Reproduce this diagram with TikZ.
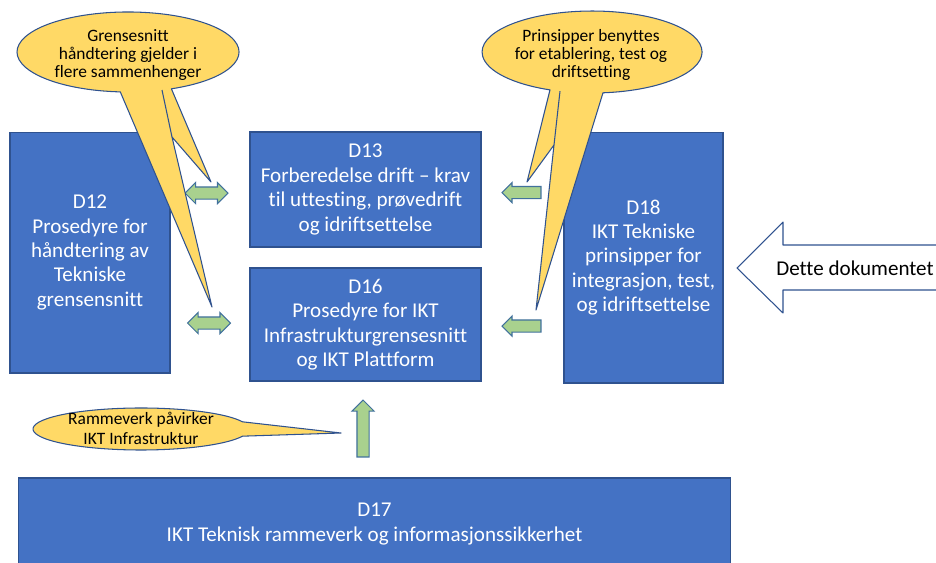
\documentclass[tikz,border=0pt]{standalone}
\usepackage{fontspec}
\setmainfont{Carlito}[Ligatures=CommonOff]
\usetikzlibrary{shapes.arrows, positioning}

\definecolor{boxblue}{HTML}{4472C4}
\definecolor{edgeblue}{HTML}{2F528F}
\definecolor{bubble}{HTML}{FFD966}
\definecolor{arrowgreen}{HTML}{A9D18E}
\definecolor{arrowedge}{HTML}{41719C}

\begin{document}
\begin{tikzpicture}[x=0.02cm, y=0.02cm, every node/.style={align=center},
		docbox/.style={draw=edgeblue, fill=boxblue, text=white, line width=0.6pt,
						inner sep=0pt, font=\fontsize{12}{13.9}\selectfont},
		callout/.style={draw=edgeblue, fill=bubble, line width=0.6pt, line join=round},
		callouttext/.style={inner sep=0pt, font=\fontsize{9.9}{10.4}\selectfont},
		dblarrow/.style={double arrow, draw=arrowedge, fill=arrowgreen, line width=0.6pt,
						inner sep=0.11cm, minimum width=0.4cm, minimum height=0.86cm,
						double arrow head extend=0.09cm, double arrow tip angle=90},
		sglarrow/.style={single arrow, draw=arrowedge, fill=arrowgreen, line width=0.6pt,
						inner sep=0.11cm, single arrow tip angle=90}]
			\clip (0,0) rectangle (936,-562);

			% boxes
			\node[docbox, minimum width=3.2cm, minimum height=4.82cm] (D12) at (90,-252.5)
				{D12\\Prosedyre for\\håndtering av\\Tekniske\\grensensnitt};
			\node[docbox, minimum width=4.62cm, minimum height=2.3cm] (D13) at (365.5,-189.5)
				{D13\\Forberedelse drift -- krav\\til uttesting, prøvedrift\\og idriftsettelse};
			\node[docbox, minimum width=4.62cm, minimum height=2.26cm] (D16) at (365.5,-324.5)
				{D16\\Prosedyre for IKT\\Infrastrukturgrensesnitt\\og IKT Plattform};
			\node[docbox, minimum width=3.18cm, minimum height=5.02cm] (D18) at (643.5,-257.5)
				{D18\\IKT Tekniske\\prinsipper for\\integrasjon, test,\\og idriftsettelse};
			\node[docbox, minimum width=14.26cm, minimum height=1.84cm] (D17) at (374.5,-524)
				{D17\\IKT Teknisk rammeverk og informasjonssikkerhet};

			% green arrows
			\node[dblarrow] (A1213) at (206.5,-193) {};
			\node[dblarrow] (A1216) at (209,-323) {};
			\node[sglarrow, minimum width=0.38cm, minimum height=0.78cm,
				single arrow head extend=0.08cm, shape border rotate=180] (A1813) at (524.5,-192.5) {};
			\node[sglarrow, minimum width=0.38cm, minimum height=0.78cm,
				single arrow head extend=0.08cm, shape border rotate=180] (A1816) at (524.5,-326) {};
			\node[sglarrow, minimum width=0.44cm, minimum height=1.14cm,
				single arrow head extend=0.1cm, shape border rotate=90] (A1716) at (363,-431.5) {};

			% callouts
			\draw[callout] (171.4,-88.8) arc[start angle=293, end angle=626, x radius=111, y radius=40]
				-- (212,-307) -- (172,-137) -- (211,-182) -- cycle;
			\draw[edgeblue, line width=0.6pt] (162,-90) -- (172,-137);
			\node[callouttext] (G) at (128,-55) {Grensesnitt\\håndtering gjelder i\\flere sammenhenger};

			\draw[callout] (603,-92.8) arc[start angle=275.7, end angle=607.5, x radius=110, y radius=41]
				-- (527,-182) -- (554,-145) -- (536,-310) -- cycle;
			\draw[edgeblue, line width=0.6pt] (560,-91.2) -- (554,-145);
			\node[callouttext] (P) at (591,-55) {Prinsipper benyttes\\for etablering, test og\\driftsetting};

			\draw[callout] (242.5,-421.8) arc[start angle=20, end angle=340, x radius=108, y radius=21]
				-- (341,-433) -- cycle;
			\node[callouttext, font=\fontsize{9.9}{11.3}\selectfont] (R) at (141,-428) {Rammeverk påvirker\\IKT Infrastruktur};

			% this document
			\draw[draw=edgeblue, fill=white, line width=0.6pt, line join=round]
				(737,-268) -- (783,-222) -- (783,-245) -- (950,-245) -- (950,-290)
				-- (783,-290) -- (783,-313) -- cycle;
			\node[font=\fontsize{12}{13.9}\selectfont, inner sep=0pt] (dette) at (855,-268) {Dette dokumentet};
		\end{tikzpicture}
\end{document}
